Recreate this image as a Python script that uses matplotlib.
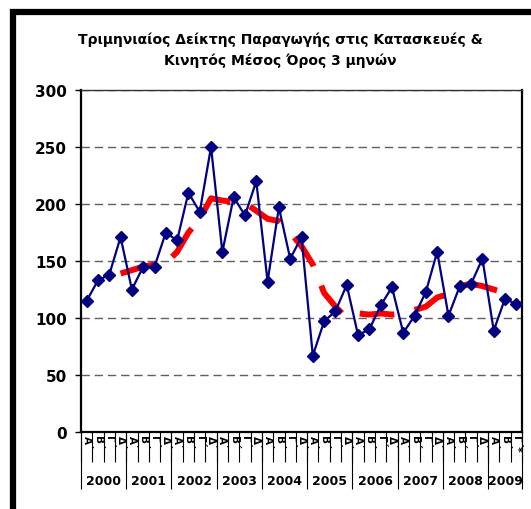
import matplotlib.pyplot as plt
import matplotlib.patches as patches
import matplotlib.transforms as mtransforms

plt.rcParams['font.family'] = ['DejaVu Sans']
plt.rcParams['lines.scale_dashes'] = False

# quarterly index 2000 Q1 .. 2009 Q3
years = ['2000', '2001', '2002', '2003', '2004', '2005', '2006', '2007', '2008', '2009']
quarters = ['Α΄', 'Β΄', 'Γ΄', 'Δ΄'] * 9 + ['Α΄', 'Β΄', 'Γ΄*']
index_values = [115, 133, 138, 171, 125, 145, 145, 175, 168, 210,
                193, 250, 158, 206, 190, 220, 132, 197, 152, 171,
                67, 97, 106, 129, 85, 90, 111, 127, 87, 102,
                123, 158, 102, 128, 130, 152, 89, 117, 112]
# moving average (starts at 4th quarter)
ma_values = [None, None, None, 139, 142, 145, 147, 148, 158, 175,
             187, 205, 203, 202, 201, 194, 187, 185, 175, 163,
             147, 122, 110, 100, 104, 103, 104, 103, 104, 107,
             110, 118, 121, 128, 130, 128, 125, 122, 118]

W, H = 531, 510
fig = plt.figure(figsize=(W / 100, H / 100), dpi=100)
ax = fig.add_axes([81 / W, 1 - 433 / H, (522 - 81) / W, (433 - 91) / H])

n = len(index_values)
xs = [i + 0.5 for i in range(n)]

# moving average (thick red dashes)
ma_x = [x for x, v in zip(xs, ma_values) if v is not None]
ma_y = [v for v in ma_values if v is not None]
ax.plot(ma_x, ma_y, color='#ff0000', lw=4.3, dashes=(25, 15),
        solid_capstyle='butt', zorder=3)

# index series
ax.plot(xs, index_values, color='#000080', lw=1.6, marker='D', ms=6.4,
        mfc='#000080', mec='#000080', zorder=4)

ax.set_xlim(0, n)
ax.set_ylim(0, 300)
ax.set_yticks(range(0, 301, 50))
ax.tick_params(axis='y', direction='out', length=4, width=1, pad=6,
               labelsize=11)
for lbl in ax.get_yticklabels():
    lbl.set_fontweight('bold')

ax.yaxis.grid(True, color='#606060', lw=1, dashes=(6, 3.5))
ax.set_axisbelow(True)

for side in ['left', 'bottom', 'right']:
    ax.spines[side].set_linewidth(1.6)
    ax.spines[side].set_color('black')
ax.spines['top'].set_linewidth(1)
ax.spines['top'].set_color('#333333')

# quarter ticks at category boundaries
ax.set_xticks(range(0, n + 1))
ax.set_xticklabels([])
ax.tick_params(axis='x', direction='out', length=21.5, width=0.8,
               color='black')

trans = mtransforms.blended_transform_factory(ax.transData, ax.transAxes)
for x, q in zip(xs, quarters):
    ax.text(x, -0.008, q, rotation=-90, ha='center', va='top',
            fontsize=7.5, fontweight='bold', transform=trans)

# year separators and labels
bounds = list(range(0, n, 4)) + [n]
ax.vlines(bounds, -0.168, 0, transform=trans, colors='black', lw=0.8,
          clip_on=False)
for k, yr in enumerate(years):
    x0, x1 = bounds[k], bounds[k + 1]
    ax.text((x0 + x1) / 2, -0.143, yr, ha='center', va='center',
            fontsize=9, fontweight='bold', transform=trans)

fig.text(280 / W, 1 - 40 / H,
         'Τριμηνιαίος Δείκτης Παραγωγής στις Κατασκευές &',
         ha='center', va='center', fontsize=10, fontweight='bold')
fig.text(280 / W, 1 - 61 / H, 'Κινητός Μέσος Όρος 3 μηνών',
         ha='center', va='center', fontsize=10, fontweight='bold')

# outer chart border (cropped on right and bottom)
fig.patches.append(patches.Rectangle((13 / W, -0.2), 1.2, 1.2 - 13 / H,
                                     transform=fig.transFigure, fill=False,
                                     lw=4.5, ec='black'))

fig.savefig('out.png', dpi=100)
